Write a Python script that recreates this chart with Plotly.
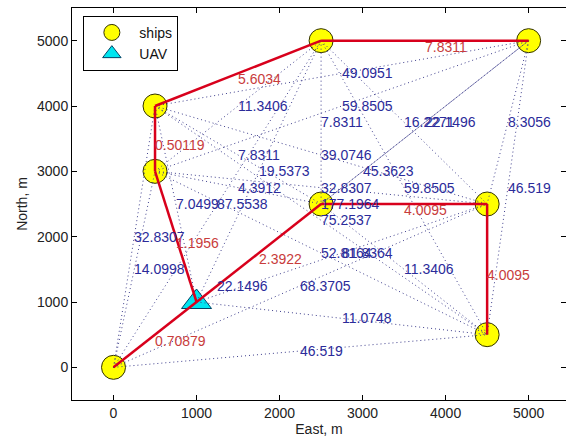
import plotly.graph_objects as go

# ---- data ----
node_names = ["P1", "P2", "P3", "P4", "P5", "P6", "P7", "P8", "U"]
node_x = [0, 500, 500, 2500, 5000, 2500, 4500, 4500, 1000]
node_y = [0, 3000, 4000, 5000, 5000, 2500, 2500, 500, 1000]

ships = ["P1", "P2", "P3", "P4", "P5", "P6", "P7", "P8"]
uav = ["U"]

red_from = ["P1", "U", "P2", "P3", "P4", "U", "P6", "P7"]
red_to = ["U", "P2", "P3", "P4", "P5", "P6", "P7", "P8"]
red_labels = ["0.70879", "1.1956", "0.50119", "5.6034", "7.8311", "2.3922", "4.0095", "4.0095"]

blue_from = ["P3", "P2", "P3", "P4", "P2", "P3", "P1", "P1", "P1", "P1", "P1", "U", "P1", "P2",
             "U", "P1", "P2", "P3", "P3", "U", "P4", "P2", "P4", "P4", "P5", "P5", "P5", "P6"]
blue_to = ["P5", "P4", "P6", "U", "P6", "U", "P4", "P3", "P2", "P6", "P7", "P8", "P8", "P8",
           "P7", "P5", "P7", "P8", "P7", "P5", "P8", "P5", "P6", "P7", "P6", "P7", "P8", "P8"]
blue_labels = ["49.0951", "11.3406", "7.8311", "19.5373", "4.3912", "7.0499", "87.5538", "32.8307",
               "14.0998", "22.1496", "68.3705", "11.0748", "46.519", "52.8164",
               "81.8364", "177.1964", "32.8307", "75.2537", "39.0746", "45.3623", "59.8505",
               "59.8505", "7.8311", "16.2271", "22.1496", "8.3056", "46.519", "11.3406"]

pos = {n: (x, y) for n, x, y in zip(node_names, node_x, node_y)}

FONT = "Liberation Sans, Arial, sans-serif"
BLUE_TXT = "#2b2b9a"
RED_TXT = "#c83c3c"


def seg_coords(frm, to):
    xs, ys = [], []
    for a, b in zip(frm, to):
        xs += [pos[a][0], pos[b][0], None]
        ys += [pos[a][1], pos[b][1], None]
    return xs, ys


fig = go.Figure()

# ships
fig.add_trace(go.Scatter(
    x=[pos[s][0] for s in ships], y=[pos[s][1] for s in ships],
    mode="markers", name="ships",
    marker=dict(symbol="circle", size=24, color="#ffff00", line=dict(color="#333300", width=1)),
))
# UAV
fig.add_trace(go.Scatter(
    x=[pos[s][0] for s in uav], y=[pos[s][1] for s in uav],
    mode="markers", name="UAV",
    marker=dict(symbol="triangle-up", size=26, color="#00e5f0", line=dict(color="#004466", width=1)),
))

# blue dotted links
bx, by = seg_coords(blue_from, blue_to)
fig.add_trace(go.Scatter(
    x=bx, y=by, mode="lines", showlegend=False, hoverinfo="skip",
    line=dict(color="#40408e", width=1, dash="1px,3px"),
))

# red path
rx, ry = seg_coords(red_from, red_to)
fig.add_trace(go.Scatter(
    x=rx, y=ry, mode="lines", showlegend=False, hoverinfo="skip",
    line=dict(color="#d8001c", width=2.5),
))

annotations = []
for a, b, t in zip(blue_from, blue_to, blue_labels):
    mx = (pos[a][0] + pos[b][0]) / 2
    my = (pos[a][1] + pos[b][1]) / 2
    annotations.append(dict(x=mx, y=my, text=t, showarrow=False, xanchor="left", yanchor="middle",
                            xshift=-2, font=dict(family=FONT, size=14, color=BLUE_TXT)))
for a, b, t in zip(red_from, red_to, red_labels):
    mx = (pos[a][0] + pos[b][0]) / 2
    my = (pos[a][1] + pos[b][1]) / 2
    annotations.append(dict(x=mx, y=my, text=t, showarrow=False, xanchor="left", yanchor="middle",
                            xshift=-2, yshift=-6, font=dict(family=FONT, size=14, color=RED_TXT)))

fig.update_layout(
    width=566, height=443,
    margin=dict(l=72, r=0, t=8, b=43),
    paper_bgcolor="white", plot_bgcolor="white",
    font=dict(family=FONT, size=14, color="#222222"),
    annotations=annotations,
    legend=dict(x=0.023, y=0.98, xanchor="left", yanchor="top",
                bordercolor="black", borderwidth=1, bgcolor="white",
                font=dict(family=FONT, size=14, color="#111111"),
                tracegroupgap=0, itemwidth=45),
    xaxis=dict(range=[-500, 5450], tickvals=[0, 1000, 2000, 3000, 4000, 5000],
               ticks="inside", ticklen=5, tickcolor="black", showline=True, linecolor="black",
               linewidth=1, mirror="ticks", showgrid=False, zeroline=False,
               title=dict(text="East, m", standoff=4, font=dict(size=14))),
    yaxis=dict(range=[-500, 5500], tickvals=[0, 1000, 2000, 3000, 4000, 5000],
               ticks="inside", ticklen=5, tickcolor="black", showline=True, linecolor="black",
               linewidth=1, mirror="ticks", showgrid=False, zeroline=False,
               title=dict(text="North, m", standoff=6, font=dict(size=14))),
)

fig.write_html("out.html", config={"displayModeBar": False},
               post_script="document.body.style.margin='0px';document.body.style.overflow='hidden';")
